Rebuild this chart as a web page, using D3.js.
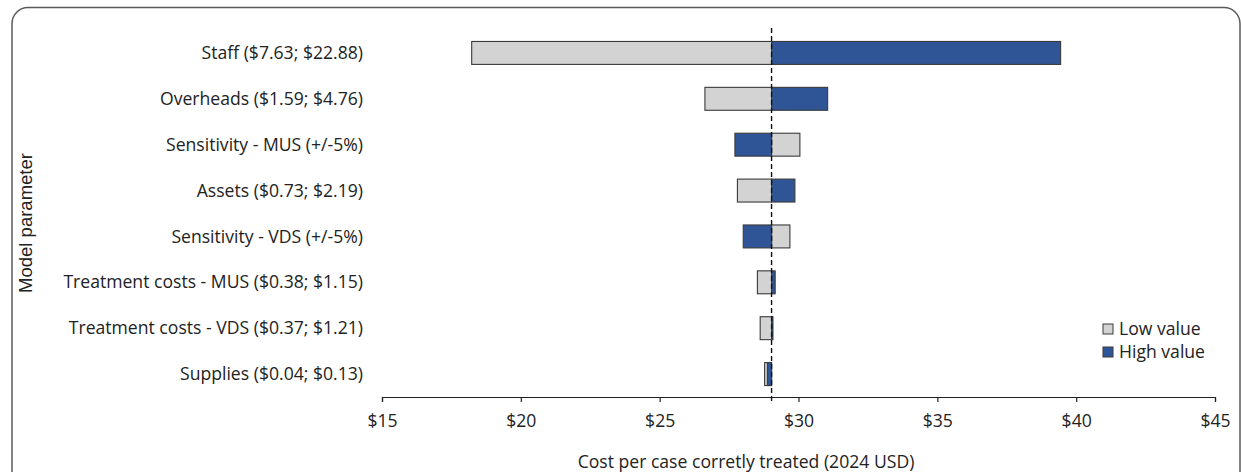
<!DOCTYPE html>
<html><head><meta charset="utf-8">
<script src="https://cdn.jsdelivr.net/npm/d3@7"></script>
<style>body{margin:0;background:#fff}svg{display:block}</style>
</head><body>
<svg id="c" width="1241" height="472"></svg>
<script>
const categories = ["Staff ($7.63; $22.88)","Overheads ($1.59; $4.76)","Sensitivity - MUS (+/-5%)","Assets ($0.73; $2.19)","Sensitivity - VDS (+/-5%)","Treatment costs - MUS ($0.38; $1.15)","Treatment costs - VDS ($0.37; $1.21)","Supplies ($0.04; $0.13)"];
const lowValues  = [18.23, 26.63, 30.05, 27.80, 29.69, 28.52, 28.62, 28.78];
const highValues = [39.44, 31.05, 27.71, 29.87, 28.01, 29.16, 29.08, 28.88];
const baseValue = 29.03;
const xTicks = [15,20,25,30,35,40,45];
const seriesNames = ["Low value","High value"];

const svg = d3.select("#c");
const font = "'Open Sans', 'Noto Sans', sans-serif";
const fs = 17.6;
const colLow = "#d3d3d3", colHigh = "#2f5597", edge = "#3a3a3a";

svg.append("rect").attr("x",12).attr("y",7.5).attr("width",1240-12).attr("height",490)
  .attr("rx",16).attr("fill","#fff").attr("stroke","#5a5a5a").attr("stroke-width",1.5);

const x = d3.scaleLinear().domain([15,45]).range([382,1215]);
const y = d3.scaleBand().domain(categories).range([30,397]).paddingInner(0.5).paddingOuter(0.25);

const g = svg.append("g");
categories.forEach((c,i)=>{
  const pairs = [[lowValues[i],colLow],[highValues[i],colHigh]];
  pairs.forEach(([v,col])=>{
    g.append("rect")
      .attr("x", x(Math.min(v,baseValue)))
      .attr("y", y(c))
      .attr("width", Math.abs(x(v)-x(baseValue)))
      .attr("height", y.bandwidth())
      .attr("fill", col).attr("stroke", edge).attr("stroke-width",1.1);
  });
  svg.append("text").attr("x",363).attr("y",y(c)+y.bandwidth()/2).attr("dy","0.35em")
    .attr("text-anchor","end").attr("font-family",font).attr("font-size",fs).attr("fill","#222")
    .text(c);
});

svg.append("line").attr("x1",x(baseValue)).attr("x2",x(baseValue)).attr("y1",28).attr("y2",402)
  .attr("stroke","#111").attr("stroke-width",1.4).attr("stroke-dasharray","5,3");

const ax = svg.append("g").attr("transform","translate(0,397)")
  .call(d3.axisBottom(x).tickValues(xTicks).tickSize(5).tickPadding(13).tickFormat(d=>"$"+d));
ax.select(".domain").attr("stroke","#222").attr("stroke-width",1.2);
ax.selectAll(".tick line").attr("stroke","#222").attr("stroke-width",1.2);
ax.selectAll("text").attr("font-family",font).attr("font-size",fs).attr("fill","#222");

svg.append("text").attr("x",746).attr("y",468).attr("text-anchor","middle")
  .attr("font-family",font).attr("font-size",fs).attr("fill","#222")
  .text("Cost per case corretly treated (2024 USD)");

svg.append("text").attr("transform","translate(32,223) rotate(-90)").attr("text-anchor","middle")
  .attr("font-family","'Liberation Sans', Arial, sans-serif").attr("font-size",18.5).attr("fill","#222")
  .text("Model parameter");

const leg = svg.append("g");
[colLow,colHigh].forEach((col,i)=>{
  leg.append("rect").attr("x",1103).attr("y",324+i*23).attr("width",10).attr("height",10)
    .attr("fill",col).attr("stroke",edge).attr("stroke-width",1);
  leg.append("text").attr("x",1119).attr("y",329+i*23).attr("dy","0.35em")
    .attr("font-family",font).attr("font-size",fs).attr("fill","#222").text(seriesNames[i]);
});
</script>
</body></html>
